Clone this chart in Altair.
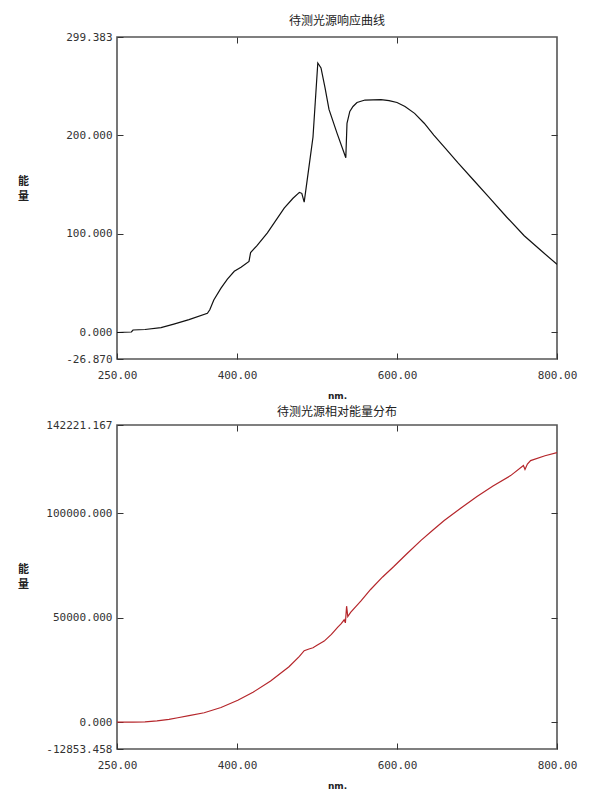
import altair as alt
import pandas as pd

# ---- top panel: response curve ----
resp_w = [250, 268, 270, 285, 305, 321, 340, 363, 366, 371, 380, 388, 396.6, 405, 415, 417, 425, 438, 459, 470, 478,
          481, 484, 490, 495, 501, 505, 510, 515, 525, 536, 537.5, 541, 545, 550, 560, 580, 590, 600, 610, 622, 634,
          646, 660, 676, 695, 714, 737, 759, 780, 800]
resp_v = [0, 0.5, 2.5, 3, 5, 8.5, 13, 19.5, 23, 33, 45, 54, 62, 66, 72, 81, 88, 101, 126, 136, 142,
          141, 132, 168, 198, 273, 268, 248, 226, 202, 177, 212, 224, 229, 233, 235.5, 236, 235, 233, 229, 222, 212,
          200, 187, 172, 155, 138, 117, 98, 83, 69]

# ---- bottom panel: relative energy distribution ----
ener_w = [250, 270, 285, 300, 315, 326, 340, 359, 380, 401, 420, 442, 465, 478, 484, 490, 495, 500, 509, 518, 526,
          530, 534, 535.5, 537, 538.5, 542, 555, 567, 582, 596, 612, 630, 645, 659, 680, 700, 720, 742, 758, 760,
          763, 767, 785, 800]
ener_v = [0, 0, 100, 600, 1300, 2100, 3100, 4500, 7000, 10500, 14300, 19700, 26500, 31500, 34200, 35000, 35600,
          36800, 38800, 42000, 45500, 47000, 49000, 47500, 55500, 50500, 52500, 58000, 63500, 69500, 74500, 80500,
          87000, 92000, 96500, 102500, 108000, 113000, 118000, 122800, 120900, 123500, 125200, 127500, 129000]

x_ticks = [250, 400, 600, 800]
x_inner = [400, 600]
resp_dom = [-26.870, 299.383]
resp_ticks = [-26.870, 0, 100, 200, 299.383]
resp_inner = [0, 100, 200]
ener_dom = [-12853.458, 142221.167]
ener_ticks = [-12853.458, 0, 50000, 100000, 142221.167]
ener_inner = [0, 50000, 100000]

titles = ["待测光源响应曲线", "待测光源相对能量分布"]
y_title = ["能", "量"]
x_title = "nm."

LABEL_FONT = "DejaVu Sans Mono"
CJK = "Noto Sans CJK SC"


def panel(df, color, ydom, yticks, yinner, title, height, title_offset):
    xs = alt.Scale(domain=[250, 800], nice=False, zero=False)
    ys = alt.Scale(domain=ydom, nice=False, zero=False)
    base = alt.Chart(df)
    main = base.mark_line(color=color, strokeWidth=1.2, clip=True).encode(
        x=alt.X("w:Q", scale=xs, axis=alt.Axis(
            orient="bottom", values=x_ticks, format=".2f", offset=-6, tickSize=6,
            domain=False, grid=False, labelPadding=10, labelFlush=False, labelOverlap=False,
            labelFont=LABEL_FONT, labelFontSize=11, labelColor="#333", tickColor="#333",
            title=x_title, titleFont="DejaVu Sans", titleFontSize=9, titleFontWeight="bold",
            titleColor="#222", titlePadding=11)),
        y=alt.Y("v:Q", scale=ys, axis=alt.Axis(
            orient="left", values=yticks,
            labelExpr="replace(format(datum.value, '.3f'), '\u2212', '-')",
            offset=-6, tickSize=6, domain=False, grid=False, labelPadding=5,
            labelFlush=False, labelOverlap=False,
            labelFont=LABEL_FONT, labelFontSize=11, labelColor="#333", tickColor="#333",
            title=y_title, titleAngle=0, titleFont=CJK, titleFontSize=11, titleFontWeight="bold",
            titleColor="#222", titleX=-100, titleY=144, titleAlign="center",
            titleBaseline="middle", titleLineHeight=15)),
    )
    mirror = base.mark_line(opacity=0).encode(
        x=alt.X("w:Q", scale=xs, axis=alt.Axis(
            orient="top", values=x_inner, offset=-6, tickSize=6, domain=False, grid=False,
            labels=False, tickColor="#333", title="")),
        y=alt.Y("v:Q", scale=ys, axis=alt.Axis(
            orient="right", values=yinner, offset=-6, tickSize=6, domain=False, grid=False,
            labels=False, tickColor="#333", title="")),
    )
    return alt.layer(main, mirror).resolve_axis(x="independent", y="independent").properties(
        width=440, height=height,
        title=alt.TitleParams(title, font=CJK, fontSize=12, fontWeight="normal", color="#222",
                              anchor="middle", offset=title_offset),
    )


top = panel(pd.DataFrame({"w": resp_w, "v": resp_v}), "#111111", resp_dom, resp_ticks, resp_inner,
            titles[0], 322, 3)
bottom = panel(pd.DataFrame({"w": ener_w, "v": ener_v}), "#b5262b", ener_dom, ener_ticks, ener_inner,
               titles[1], 324, 0)

chart = alt.vconcat(top, bottom, spacing=4).properties(
    padding={"left": 8, "top": 6, "right": 5, "bottom": 5},
    background="white",
).configure_view(stroke="#555555", strokeWidth=1.6)

chart.save("out.html", embed_options={"renderer": "svg", "actions": False})
